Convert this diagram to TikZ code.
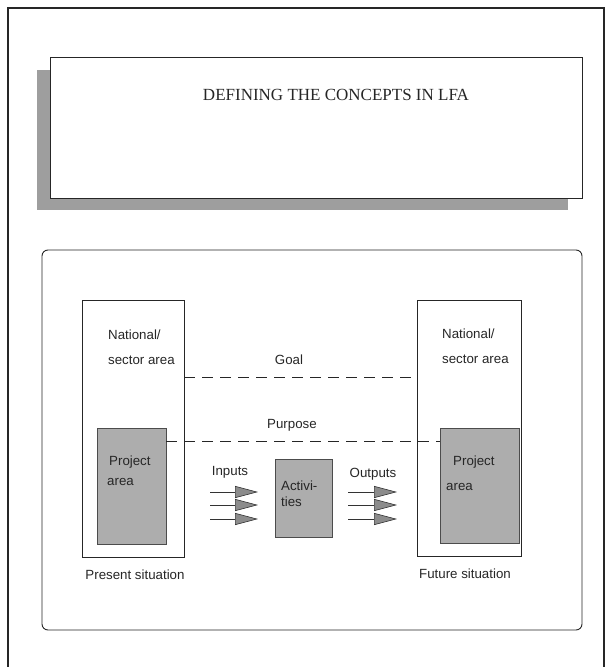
\documentclass[tikz,border=0pt]{standalone}
\usepackage{fontspec}
\setmainfont{Liberation Serif}
\newfontfamily\labelfont{Liberation Sans}
\usetikzlibrary{arrows.meta,fit}
\definecolor{shadowgray}{gray}{0.62}
\definecolor{projfill}{gray}{0.68}
\tikzset{
  frameline/.style={line width=1.1pt,draw=black!85},
  boxline/.style={line width=0.9pt,draw=black!85},
  areabox/.style={inner sep=0pt,boxline},
  projbox/.style={inner sep=0pt,line width=0.9pt,draw=black!70,fill=projfill},
  lbl/.style={font=\labelfont\fontsize{13.3}{16}\selectfont,inner sep=0pt,text=black!85},
  dashline/.style={line width=0.9pt,draw=black!85,dash pattern=on 11pt off 7pt},
  flowarrow/.style={line width=0.9pt,draw=black!80,-{Triangle[length=23pt,width=12pt,fill=black!45,line width=0.6pt]}}
}
\begin{document}
\begin{tikzpicture}[x=1pt,y=-1pt]
\useasboundingbox (0,0) rectangle (608,667);
% outer frame (bottom edge cut off)
\draw[frameline] (8,667) -- (8,8) -- (604,8) -- (604,667);
% title with shadow
\fill[shadowgray] (37,70) rectangle (568,210);
\node[fit={(50,57) (582,198)},inner sep=0pt,fill=white,boxline] (titlebox) {};
\node[font=\fontsize{17}{20}\selectfont,inner sep=0pt,text=black!85] (title) at (336,95) {DEFINING THE CONCEPTS IN LFA};
% inner frame
\draw[frameline,line width=0.9pt,rounded corners=6pt] (42,250) rectangle (582,630);
% left: present situation
\node[areabox,fit={(82,300) (184,557)}] (leftbox) {};
\node[projbox,fit={(97,428) (166,544)}] (leftproj) {};
\node[lbl,anchor=west] (lnat) at (108,335) {National/};
\node[lbl,anchor=west] (lsec) at (108,360) {sector area};
\node[lbl,anchor=west] (lproj) at (109,462) {Project};
\node[lbl,anchor=west] (larea) at (107,482) {area};
\node[lbl] (present) at (135,575) {Present situation};
% right: future situation
\node[areabox,fit={(417,300) (521,556)}] (rightbox) {};
\node[projbox,fit={(440,428) (519,543)}] (rightproj) {};
\node[lbl,anchor=west] (rnat) at (442,334) {National/};
\node[lbl,anchor=west] (rsec) at (442,359) {sector area};
\node[lbl,anchor=west] (rproj) at (453,462) {Project};
\node[lbl,anchor=west] (rarea) at (446,487) {area};
\node[lbl] (future) at (465,574) {Future situation};
% activities
\node[projbox,fit={(275,459) (332,537)}] (activ) {};
\node[lbl,anchor=west] (act1) at (281,486) {Activi-};
\node[lbl,anchor=west] (act2) at (281,502) {ties};
% goal and purpose
\coordinate (goaly) at (0,377);
\coordinate (purpy) at (0,441);
\draw[dashline] (leftbox.east |- goaly) -- (rightbox.west |- goaly);
\draw[dashline] (leftproj.east |- purpy) -- (rightproj.west |- purpy);
\node[lbl] (goal) at (289,360) {Goal};
\node[lbl] (purpose) at (292,425) {Purpose};
% inputs / outputs
\node[lbl] (inputs) at (230,472) {Inputs};
\node[lbl] (outputs) at (373,474) {Outputs};
\foreach \k/\yy in {1/492,2/505,3/519}{
  \coordinate (in\k s) at (210,\yy);
  \coordinate (in\k e) at (258,\yy);
  \coordinate (out\k s) at (348,\yy);
  \coordinate (out\k e) at (397,\yy);
  \draw[flowarrow] (in\k s) -- (in\k e);
  \draw[flowarrow] (out\k s) -- (out\k e);
}
\end{tikzpicture}
\end{document}
